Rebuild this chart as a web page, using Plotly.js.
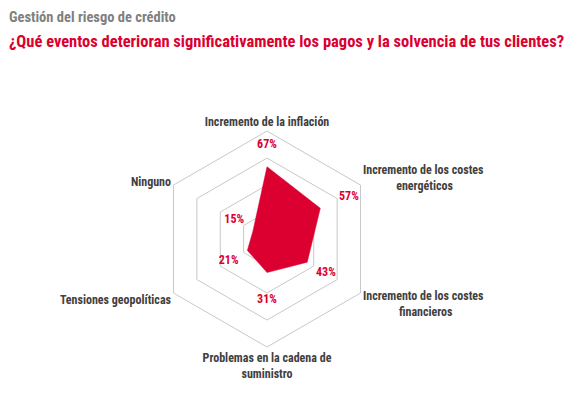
<!DOCTYPE html>
<html>
<head>
<meta charset="utf-8">
<script src="https://cdn.plot.ly/plotly-3.0.1.min.js"></script>
<style>html,body{margin:0;padding:0;background:#fff;}#chart{width:567px;height:396px;}</style>
</head>
<body>
<div id="chart"></div>
<script>
const categories = [
  "Incremento de la inflación",
  "Incremento de los costes<br>energéticos",
  "Incremento de los costes<br>financieros",
  "Problemas en la cadena de<br>suministro",
  "Tensiones geopolíticas",
  "Ninguno"
];
const values = [67, 57, 43, 31, 21, 15];
const titleText = "Gestión del riesgo de crédito";
const subtitleText = "¿Qué eventos deterioran significativamente los pagos y la solvencia de tus clientes?";

const FONT = "'Roboto Condensed', 'Open Sans Condensed', sans-serif";
const RED = "#db0030";
const LABEL_OFFSET = 20;
const labelPositions = ["middle center", "middle right", "middle center", "bottom center", "middle center", "middle center"];
// non-breaking-space indent used to visually centre the second line of right-side labels
const secondLineIndent = [0, 12, 13, 0, 0, 0];

const closedCats = categories.concat([categories[0]]);
const closedVals = values.concat([values[0]]);
const tickText = categories.map((c, i) => c.replace("<br>", "<br>" + "\u00a0".repeat(secondLineIndent[i])));

const traces = [
  {
    type: "scatterpolar",
    r: closedVals,
    theta: closedCats,
    mode: "lines",
    fill: "toself",
    fillcolor: RED,
    line: {color: RED, width: 0.5},
    hoverinfo: "skip",
    showlegend: false
  },
  {
    type: "scatterpolar",
    r: values.map(v => v + LABEL_OFFSET),
    theta: categories,
    mode: "text",
    text: values.map(v => v + "%"),
    textposition: labelPositions,
    textfont: {family: FONT, size: 12, color: RED, weight: "bold"},
    hoverinfo: "skip",
    showlegend: false
  }
];

const layout = {
  width: 567,
  height: 396,
  margin: {l: 0, r: 0, t: 0, b: 0},
  paper_bgcolor: "#ffffff",
  showlegend: false,
  font: {family: FONT},
  polar: {
    domain: {x: [0.2804, 0.6614], y: [0.1237, 0.669]},
    gridshape: "linear",
    bgcolor: "rgba(0,0,0,0)",
    radialaxis: {
      range: [0, 100],
      tickvals: [25, 50, 75],
      showticklabels: false,
      ticks: "",
      showline: false,
      gridcolor: "#c8c8c8",
      gridwidth: 1
    },
    angularaxis: {
      rotation: 90,
      direction: "clockwise",
      showgrid: false,
      showline: true,
      linecolor: "#c8c8c8",
      linewidth: 1,
      ticks: "",
      tickmode: "array",
      tickvals: categories,
      ticktext: tickText,
      tickfont: {family: FONT, size: 12, color: "#404040", weight: "bold"}
    }
  },
  annotations: [
    {
      text: titleText,
      xref: "paper", yref: "paper",
      x: 0.012, y: 1 - 17/396,
      xanchor: "left", yanchor: "middle",
      showarrow: false,
      font: {family: FONT, size: 14.5, color: "#808080", weight: "bold"}
    },
    {
      text: subtitleText,
      xref: "paper", yref: "paper",
      x: 0.012, y: 1 - 41/396,
      xanchor: "left", yanchor: "middle",
      showarrow: false,
      font: {family: FONT, size: 16.5, color: RED, weight: "bold"}
    }
  ]
};

Plotly.newPlot("chart", traces, layout, {displayModeBar: false, staticPlot: true});
</script>
</body>
</html>
